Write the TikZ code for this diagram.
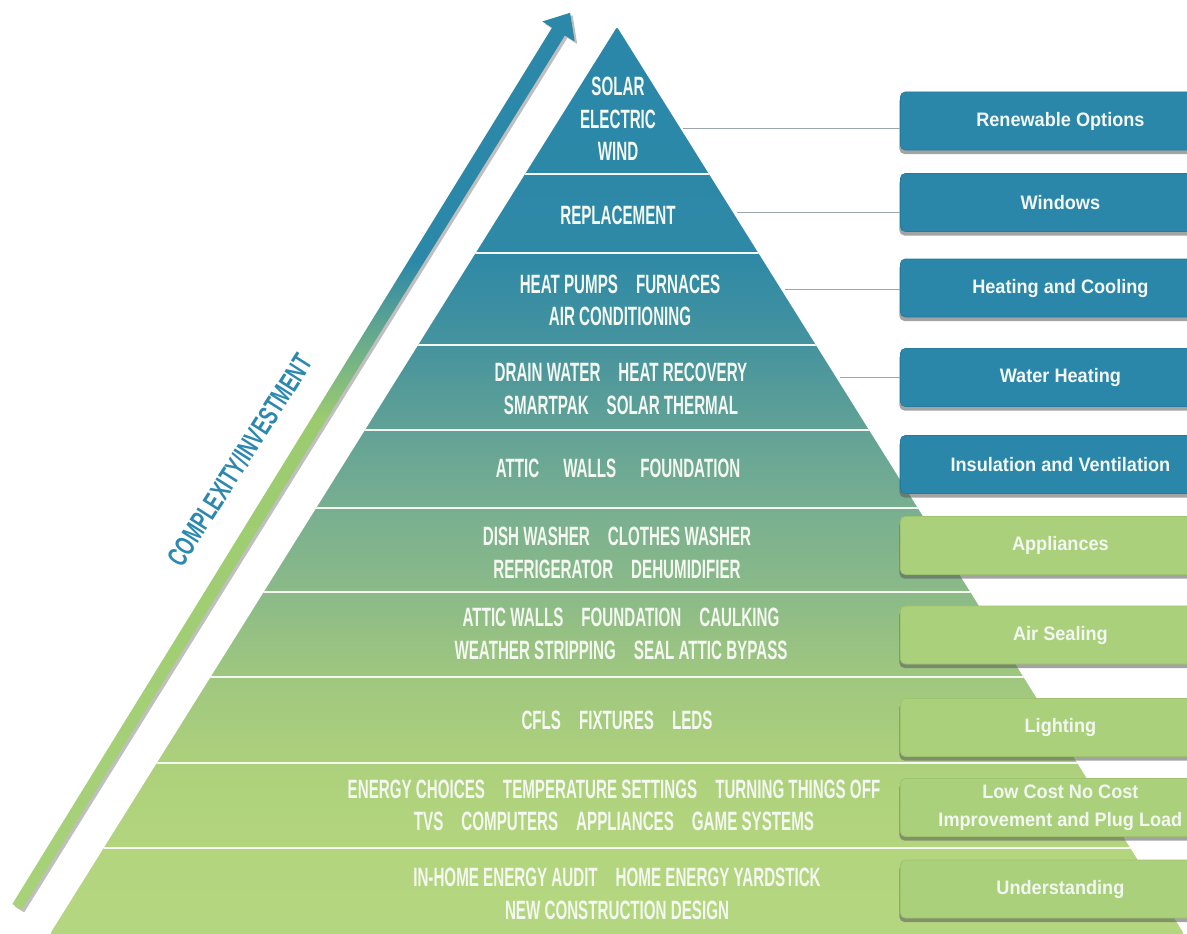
\documentclass[tikz,border=0pt]{standalone}
\usepackage{fontspec}
\setmainfont{Liberation Sans}
\newfontfamily\pyrfont[FakeStretch=0.572]{Liberation Sans}
\newfontfamily\boxfont[FakeStretch=0.93]{Liberation Sans}
\newfontfamily\axfont[FakeStretch=0.66]{Liberation Sans}
\usetikzlibrary{shadows}

\definecolor{tealblue}{HTML}{2A87A9}
\definecolor{tealdark}{HTML}{247B9B}
\definecolor{boxgreen}{HTML}{ABD07B}
\definecolor{greendark}{HTML}{9DC46D}
\definecolor{boxtext}{HTML}{F3F7F2}
\definecolor{pyrtextc}{HTML}{F4F8F1}
\definecolor{connc}{HTML}{9AA6AB}
\definecolor{axblue}{HTML}{2C88AE}

\definecolor{p0}{HTML}{B5D680}
\definecolor{p1}{HTML}{B3D57E}
\definecolor{p2}{HTML}{ADD07C}
\definecolor{p3}{HTML}{9FC77F}
\definecolor{p4}{HTML}{8BBA88}
\definecolor{p5}{HTML}{78AF90}
\definecolor{p6}{HTML}{62A296}
\definecolor{p7}{HTML}{45939E}
\definecolor{p8}{HTML}{2E89A6}
\definecolor{p9}{HTML}{2A87A9}

\definecolor{a0}{HTML}{A8D27A}
\definecolor{a1}{HTML}{9CCB6F}
\definecolor{a2}{HTML}{68AB8C}
\definecolor{a3}{HTML}{2C88A8}

\pgfdeclareverticalshading{pyrshade}{100bp}{color(0bp)=(p0); color(25bp)=(p0); color(29.7bp)=(p1); color(34.4bp)=(p2); color(39.2bp)=(p3); color(43.9bp)=(p4); color(48.5bp)=(p5); color(52.8bp)=(p6); color(57.5bp)=(p7); color(62.5bp)=(p8); color(75bp)=(p9); color(100bp)=(p9)}
\pgfdeclareverticalshading{arrowshade}{100bp}{color(0bp)=(a0); color(25bp)=(a0); color(52.3bp)=(a1); color(56.8bp)=(a2); color(61.2bp)=(a3); color(75bp)=(a3); color(100bp)=(a3)}

\newcommand\itemgap{\hspace{18pt}}

\tikzset{
  pyrtext/.style={align=center, text=pyrtextc, inner sep=0pt,
    font=\pyrfont\bfseries\fontsize{26.5}{32.5}\selectfont},
  sepline/.style={draw=pyrtextc, line width=2.5pt},
  catbox/.style={anchor=west, minimum width=320pt, minimum height=58pt,
    rounded corners=5pt, align=center, inner sep=0pt, text=boxtext,
    font=\boxfont\bfseries\fontsize{19.5}{28}\selectfont,
    drop shadow={shadow xshift=-1pt, shadow yshift=-4pt, fill=black!65, opacity=0.55}},
  bluebox/.style={catbox, fill=tealblue, draw=tealdark, line width=0.8pt},
  greenbox/.style={catbox, fill=boxgreen, draw=greendark, line width=0.8pt},
  conn/.style={draw=connc, line width=1pt},
}

\begin{document}
\begin{tikzpicture}[x=1pt, y=-1pt]
\clip (0,0) rectangle (1187,934);
\fill[white] (0,0) rectangle (1187,934);

% arrow (shadow + body)
\fill[black, opacity=0.25, shift={(2.5,2.5)}]
  (12.3,904.1) -- (552.1,27.6) -- (542.3,21.5) -- (570.1,12.8) -- (574.7,41.5) -- (564.9,35.4) -- (21.7,909.9) -- cycle;
\shade[shading=arrowshade]
  (12.3,904.1) -- (552.1,27.6) -- (542.3,21.5) -- (570.1,12.8) -- (574.7,41.5) -- (564.9,35.4) -- (21.7,909.9) -- cycle;

\node[rotate=57.5, text=axblue, inner sep=0pt, font=\axfont\bfseries\fontsize{28}{30}\selectfont] (axis) at (240,460) {COMPLEXITY/INVESTMENT};

% pyramid
\shade[shading=pyrshade, rounded corners=2pt] (617,27) -- (1184,934) -- (50,934) -- cycle;
\begin{scope}
  \clip (617,27) -- (1184,934) -- (50,934) -- cycle;
  \foreach \yy in {174,253,345,430,508,592,677,763,848}
    \draw[sepline] (0,\yy) -- (1187,\yy);
\end{scope}

% layer texts
\node[pyrtext] (t1) at (618,119) {SOLAR\\ELECTRIC\\WIND};
\node[pyrtext] (t2) at (618,215) {REPLACEMENT};
\node[pyrtext] (t3) at (620,300.5) {HEAT PUMPS\itemgap FURNACES\\AIR CONDITIONING};
\node[pyrtext] (t4) at (621,389) {DRAIN WATER\itemgap HEAT RECOVERY\\SMARTPAK\itemgap SOLAR THERMAL};
\node[pyrtext] (t5) at (618,468) {ATTIC\hspace{24pt}WALLS\hspace{24pt}FOUNDATION};
\node[pyrtext] (t6) at (617,553) {DISH WASHER\itemgap CLOTHES WASHER\\REFRIGERATOR\itemgap DEHUMIDIFIER};
\node[pyrtext] (t7) at (621,634) {ATTIC WALLS\itemgap FOUNDATION\itemgap CAULKING\\WEATHER STRIPPING\itemgap SEAL ATTIC BYPASS};
\node[pyrtext] (t8) at (617,720) {CFLS\itemgap FIXTURES\itemgap LEDS};
\node[pyrtext] (t9) at (614,805.5) {ENERGY CHOICES\itemgap TEMPERATURE SETTINGS\itemgap TURNING THINGS OFF\\TVS\itemgap COMPUTERS\itemgap APPLIANCES\itemgap GAME SYSTEMS};
\node[pyrtext] (t10) at (617,894) {IN-HOME ENERGY AUDIT\itemgap HOME ENERGY YARDSTICK\\NEW CONSTRUCTION DESIGN};

% category boxes
\node[bluebox] (b1) at (900,121) {Renewable Options};
\node[bluebox] (b2) at (900,202.5) {Windows};
\node[bluebox] (b3) at (900,288) {Heating and Cooling};
\node[bluebox] (b4) at (900,377.5) {Water Heating};
\node[bluebox] (b5) at (900,464.5) {Insulation and Ventilation};
\node[greenbox] (b6) at (900,545.5) {Appliances};
\node[greenbox] (b7) at (900,635) {Air Sealing};
\node[greenbox] (b8) at (900,727.5) {Lighting};
\node[greenbox] (b9) at (900,807.5) {Low Cost No Cost\\Improvement and Plug Load};
\node[greenbox] (b10) at (900,889) {Understanding};

% connectors from pyramid edge to boxes
\coordinate (e1) at (683,128);
\coordinate (e2) at (737,212);
\coordinate (e3) at (785,289);
\coordinate (e4) at (840,377);
\draw[conn] (e1) -- (e1 -| b1.west);
\draw[conn] (e2) -- (e2 -| b2.west);
\draw[conn] (e3) -- (e3 -| b3.west);
\draw[conn] (e4) -- (e4 -| b4.west);
\end{tikzpicture}
\end{document}
